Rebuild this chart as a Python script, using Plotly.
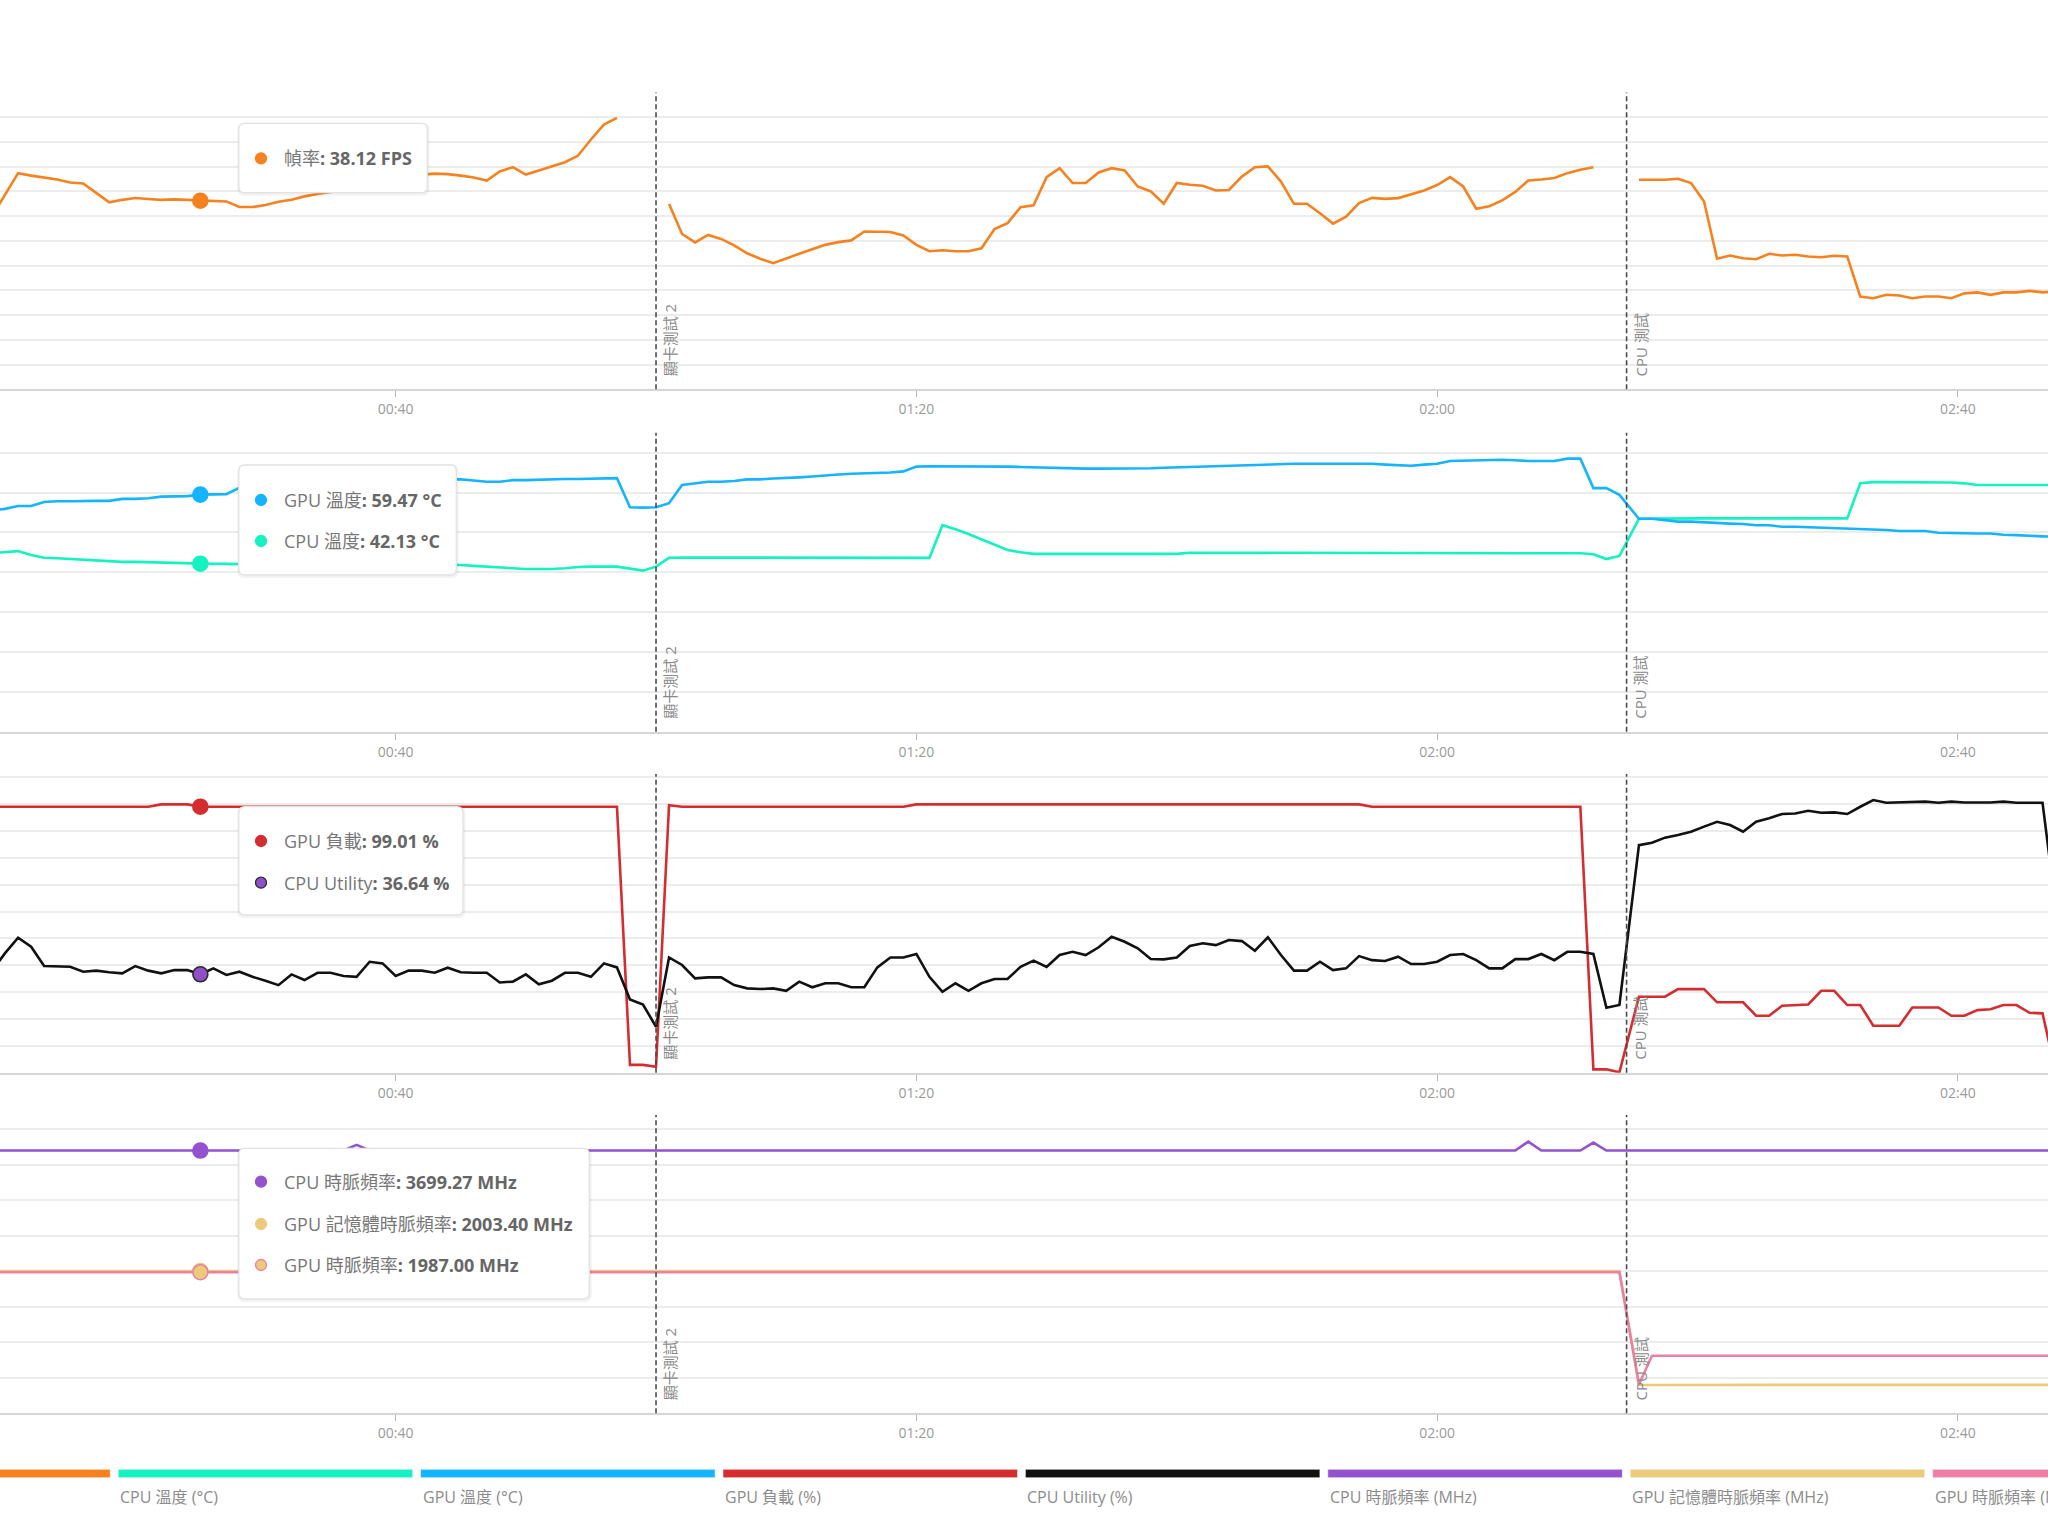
import plotly.graph_objects as go

W, H = 2048, 1536

# ---------------- data ----------------
# sample times in seconds (1 Hz log); the CPU test starts on a half-second grid
SECONDS = list(range(9, 135)) + [135.5 + k for k in range(33)]

FPS = [
    35.0, 39.4, 43.7, 43.2, 42.8, 42.4, 41.8, 41.6, 39.7, 37.8,
    38.3, 38.66, 38.46, 38.3, 38.4, 38.26, 38.12, 38.1, 37.98, 36.84,
    36.84, 37.25, 37.9, 38.3, 39.0, 39.5, 39.9, 40.1, 40.5, 41.1,
    41.7, 42.3, 42.9, 43.4, 43.6, 43.5, 43.2, 42.8, 42.2, 44.05,
    44.9, 43.4, 44.25, 45.06, 45.9, 47.2, 50.5, 53.5, 54.86, None,
    None, None, 37.45, 31.4, 29.7, 31.2, 30.4, 29.1, 27.5, 26.4,
    25.5, 26.5, 27.4, 28.3, 29.2, 29.75, 30.1, 31.9, 31.9, 31.8,
    31.1, 29.2, 27.9, 28.1, 27.9, 27.9, 28.5, 32.4, 33.6, 36.8,
    37.2, 42.9, 44.7, 41.7, 41.7, 43.85, 44.7, 44.25, 41.0, 40.0,
    37.5, 41.7, 41.35, 41.15, 40.2, 40.3, 43.0, 44.9, 45.06, 42.0,
    37.5, 37.5, 35.6, 33.5, 34.9, 37.65, 38.7, 38.5, 38.65, 39.5,
    40.2, 41.3, 42.9, 41.0, 36.5, 37.0, 38.2, 39.9, 42.2, 42.4,
    42.7, 43.7, 44.4, 44.9, None, None,
    42.37, 42.37, 42.37, 42.57, 41.7, 37.98, 26.4, 27.05, 26.5, 26.3,
    27.4, 27.05, 27.2, 26.85, 26.7, 27.0, 26.85, 18.75, 18.4, 19.1,
    18.95, 18.4, 18.75, 18.75, 18.4, 19.4, 19.6, 19.1, 19.6, 19.6,
    19.9, 19.6, 19.75,
]

CPU_TEMP = [
    44.8, 45.0, 45.3, 44.3, 43.65, 43.5, 43.3, 43.1, 42.9, 42.65,
    42.6, 42.6, 42.5, 42.5, 42.4, 42.3, 42.13, 42.1, 42.1, 42.0,
    42.0, 42.0, 42.0, 41.9, 41.9, 41.9, 41.9, 41.9, 41.8, 41.8,
    41.8, 41.8, 41.8, 41.8, 41.8, 41.8, 41.8, 41.6, 41.4, 41.2,
    41.0, 40.8, 40.8, 40.8, 41.0, 41.3, 41.4, 41.4, 41.4, 40.9,
    40.4, 41.4, 43.6, 43.7, 43.7, 43.6, 43.6, 43.6, 43.6, 43.6,
    43.6, 43.6, 43.6, 43.6, 43.6, 43.6, 43.6, 43.6, 43.6, 43.6,
    43.6, 43.6, 43.6, 51.8, 50.8, 49.6, 48.2, 46.8, 45.6, 45.0,
    44.6, 44.6, 44.6, 44.6, 44.6, 44.6, 44.6, 44.6, 44.6, 44.6,
    44.6, 44.6, 44.9, 44.9, 44.9, 44.9, 44.9, 44.9, 44.9, 44.9,
    44.9, 44.9, 44.9, 44.9, 44.9, 44.9, 44.9, 44.8, 44.8, 44.8,
    44.8, 44.8, 44.8, 44.8, 44.8, 44.8, 44.75, 44.75, 44.75, 44.75,
    44.75, 44.75, 44.75, 44.5, 43.3, 44.1,
    53.4, 53.45, 53.5, 53.5, 53.5, 53.5, 53.5, 53.5, 53.5, 53.5,
    53.5, 53.5, 53.5, 53.5, 53.5, 53.5, 53.5, 62.3, 62.6, 62.6,
    62.6, 62.6, 62.6, 62.6, 62.5, 62.3, 61.9, 61.9, 61.9, 61.9,
    61.9, 61.9, 61.9,
]

GPU_TEMP = [
    55.5, 55.9, 56.6, 56.6, 57.6, 57.8, 57.8, 57.9, 57.9, 57.9,
    58.4, 58.4, 58.55, 58.96, 59.1, 59.1, 59.47, 59.47, 59.6, 61.2,
    61.8, 62.2, 62.4, 62.6, 62.7, 62.8, 62.9, 63.0, 63.0, 63.1,
    63.1, 63.2, 63.2, 63.3, 63.3, 63.3, 63.3, 63.0, 62.7, 62.7,
    63.1, 63.1, 63.2, 63.4, 63.4, 63.4, 63.5, 63.6, 63.6, 56.3,
    56.2, 56.3, 57.3, 61.9, 62.3, 62.7, 62.7, 62.9, 63.3, 63.3,
    63.5, 63.6, 63.8, 64.0, 64.3, 64.5, 64.7, 64.8, 65.0, 65.0,
    65.3, 66.5, 66.6, 66.6, 66.6, 66.6, 66.6, 66.5, 66.5, 66.4,
    66.3, 66.2, 66.2, 66.0, 66.0, 66.0, 66.0, 66.0, 66.0, 66.1,
    66.2, 66.3, 66.4, 66.5, 66.6, 66.7, 66.8, 66.9, 67.0, 67.2,
    67.2, 67.2, 67.2, 67.2, 67.2, 67.2, 67.2, 67.0, 66.8, 66.7,
    67.0, 67.2, 67.9, 68.0, 68.1, 68.2, 68.2, 68.1, 67.9, 67.9,
    67.9, 68.5, 68.5, 61.1, 61.1, 59.4,
    53.4, 53.4, 53.1, 52.7, 52.7, 52.5, 52.3, 52.2, 52.1, 51.8,
    51.8, 51.4, 51.4, 51.3, 51.1, 51.0, 50.85, 50.85, 50.8, 50.6,
    50.35, 50.35, 50.35, 49.9, 49.8, 49.8, 49.7, 49.7, 49.4, 49.3,
    49.1, 49.0, 48.9,
]

GPU_LOAD = [
    99.0, 99.0, 99.0, 99.0, 99.0, 99.0, 99.0, 99.0, 99.0, 99.0,
    99.0, 99.0, 99.0, 99.9, 99.9, 99.9, 99.01, 99.0, 99.0, 99.0,
    99.0, 99.0, 99.0, 99.0, 99.0, 99.0, 99.0, 99.0, 99.0, 99.0,
    99.0, 99.0, 99.0, 99.0, 99.0, 99.0, 99.0, 99.0, 99.0, 99.0,
    99.0, 99.0, 99.0, 99.0, 99.0, 99.0, 99.0, 99.0, 99.0, 2.9,
    2.9, 2.2, 99.6, 99.0, 99.0, 99.0, 99.0, 99.0, 99.0, 99.0,
    99.0, 99.0, 99.0, 99.0, 99.0, 99.0, 99.0, 99.0, 99.0, 99.0,
    99.0, 99.9, 99.9, 99.9, 99.9, 99.9, 99.9, 99.9, 99.9, 99.9,
    99.9, 99.9, 99.9, 99.9, 99.9, 99.9, 99.9, 99.9, 99.9, 99.9,
    99.9, 99.9, 99.9, 99.9, 99.9, 99.9, 99.9, 99.9, 99.9, 99.9,
    99.9, 99.9, 99.9, 99.9, 99.9, 99.9, 99.0, 99.0, 99.0, 99.0,
    99.0, 99.0, 99.0, 99.0, 99.0, 99.0, 99.0, 99.0, 99.0, 99.0,
    99.0, 99.0, 99.0, 1.25, 1.25, 0.15,
    28.3, 28.3, 28.3, 31.1, 31.1, 31.1, 26.2, 26.2, 26.2, 21.2,
    21.2, 24.9, 25.2, 25.4, 30.5, 30.5, 25.2, 25.2, 17.5, 17.5,
    17.5, 24.3, 24.3, 24.3, 21.2, 21.2, 23.3, 23.6, 25.2, 25.2,
    22.3, 22.1, 0.5,
]

CPU_UTIL = [
    38.0, 44.5,
    50.25, 46.9, 39.7, 39.7, 39.45, 37.6, 38.0, 37.4, 37.0, 39.7,
    38.0, 37.0, 38.2, 38.2, 36.64, 38.85, 36.4, 37.6, 35.7, 34.25,
    32.6, 36.6, 34.5, 37.2, 37.2, 36.0, 35.7, 41.3, 40.7, 36.0,
    38.0, 38.0, 37.2, 39.1, 37.4, 37.2, 37.2, 33.6, 33.9, 36.6,
    32.9, 34.25, 37.2, 37.2, 35.7, 40.7, 39.2,
    27.3, 25.4, 17.1,
    42.9, 40.1, 35.1, 35.5, 35.5, 32.6, 31.4, 31.15, 31.4, 30.5,
    33.9, 31.8, 33.3, 33.3, 31.8, 31.8, 39.2, 42.9, 42.9, 44.2,
    35.7, 30.1, 33.3, 30.5, 33.3, 34.9, 34.9, 39.4, 41.7, 39.4,
    43.8, 45.0, 43.8, 46.7, 50.6, 48.75, 46.3, 42.3, 42.2, 42.9,
    47.15, 48.2, 47.5, 49.4, 49.0, 45.4, 50.4, 43.8, 38.0, 38.0,
    41.3, 38.2, 38.85, 43.4, 41.9, 41.6, 43.2, 40.45, 40.45, 41.3,
    43.8, 44.2, 41.9, 38.85, 38.85, 42.3, 42.3, 44.2, 41.9, 45.0,
    45.0, 44.2,
    24.2, 25.2,
    84.7, 85.6, 87.5, 88.5, 89.7, 91.6, 93.4, 92.2, 89.7, 93.4,
    94.7, 96.3, 96.5, 97.5, 96.8, 96.9, 96.3, 99.0, 101.5, 100.5,
    100.6, 100.9, 100.9, 100.5, 100.9, 100.6, 100.5, 100.6, 100.9, 100.5,
    100.5, 100.5, 62.0,
]

CPU_CLOCK = [
    3699.3, 3699.3, 3702.1, 3705.0, 3699.3, 3699.3, 3698.9, 3699.3, 3699.3, 3699.3,
    3699.3, 3699.3, 3699.3, 3699.3, 3699.3, 3699.3, 3699.27, 3699.3, 3699.3, 3699.3,
    3699.3, 3699.3, 3699.3, 3699.3, 3699.3, 3699.3, 3699.3, 3699.3, 3779.0, 3699.3,
    3699.3, 3699.3, 3699.3, 3699.3, 3699.3, 3699.3, 3699.3, 3699.3, 3699.3, 3699.3,
    3699.3, 3699.3, 3699.3, 3699.3, 3699.3, 3699.3, 3699.3, 3699.3, 3699.3, 3706.0,
    3699.3, 3699.3, 3699.3, 3699.3, 3699.3, 3699.3, 3699.3, 3699.3, 3699.3, 3699.3,
    3699.3, 3699.3, 3699.3, 3699.3, 3699.3, 3699.3, 3699.3, 3699.3, 3699.3, 3699.3,
    3699.3, 3699.3, 3699.3, 3699.3, 3699.3, 3699.3, 3699.3, 3699.3, 3699.3, 3699.3,
    3699.3, 3699.3, 3699.3, 3699.3, 3699.3, 3699.3, 3699.3, 3699.3, 3699.3, 3699.3,
    3699.3, 3699.3, 3699.3, 3699.3, 3699.3, 3699.3, 3699.3, 3699.3, 3699.3, 3699.3,
    3699.3, 3699.3, 3699.3, 3699.3, 3699.3, 3699.3, 3699.3, 3699.3, 3699.3, 3699.3,
    3699.3, 3699.3, 3699.3, 3699.3, 3699.3, 3699.3, 3699.3, 3699.3, 3825.0, 3699.3,
    3699.3, 3699.3, 3699.3, 3811.0, 3699.3, 3699.3,
    3699.3, 3699.3, 3701.5, 3699.3, 3699.3, 3699.3, 3699.3, 3699.3, 3699.3, 3699.3,
    3699.3, 3703.0, 3699.3, 3699.3, 3699.3, 3699.3, 3699.3, 3703.0, 3699.3, 3699.3,
    3699.3, 3703.0, 3699.3, 3699.3, 3699.3, 3699.3, 3699.3, 3699.3, 3699.3, 3699.3,
    3703.0, 3699.3, 3699.3,
]

GPU_MEM_CLOCK = [
    2003.4, 2003.4, 2003.4, 2003.4, 2003.4, 2003.4, 2003.4, 2003.4, 2003.4, 2003.4,
    2003.4, 2003.4, 2003.4, 2003.4, 2003.4, 2003.4, 2003.4, 2003.4, 2003.4, 2003.4,
    2003.4, 2003.4, 2003.4, 2003.4, 2003.4, 2003.4, 2003.4, 2003.4, 2003.4, 2003.4,
    2003.4, 2003.4, 2003.4, 2003.4, 2003.4, 2003.4, 2003.4, 2003.4, 2003.4, 2003.4,
    2003.4, 2003.4, 2003.4, 2003.4, 2003.4, 2003.4, 2003.4, 2003.4, 2003.4, 2003.4,
    2003.4, 2003.4, 2003.4, 2003.4, 2003.4, 2003.4, 2003.4, 2003.4, 2003.4, 2003.4,
    2003.4, 2003.4, 2003.4, 2003.4, 2003.4, 2003.4, 2003.4, 2003.4, 2003.4, 2003.4,
    2003.4, 2003.4, 2003.4, 2003.4, 2003.4, 2003.4, 2003.4, 2003.4, 2003.4, 2003.4,
    2003.4, 2003.4, 2003.4, 2003.4, 2003.4, 2003.4, 2003.4, 2003.4, 2003.4, 2003.4,
    2003.4, 2003.4, 2003.4, 2003.4, 2003.4, 2003.4, 2003.4, 2003.4, 2003.4, 2003.4,
    2003.4, 2003.4, 2003.4, 2003.4, 2003.4, 2003.4, 2003.4, 2003.4, 2003.4, 2003.4,
    2003.4, 2003.4, 2003.4, 2003.4, 2003.4, 2003.4, 2003.4, 2003.4, 2003.4, 2003.4,
    2003.4, 2003.4, 2003.4, 2003.4, 2003.4, 2003.4,
    399.0, 400.0, 400.0, 400.0, 400.0, 400.0, 400.0, 400.0, 400.0, 400.0,
    400.0, 400.0, 400.0, 400.0, 400.0, 400.0, 400.0, 400.0, 400.0, 400.0,
    400.0, 400.0, 400.0, 400.0, 400.0, 400.0, 400.0, 400.0, 400.0, 400.0,
    400.0, 400.0, 400.0,
]

GPU_CLOCK = [
    1987.0, 1987.0, 1987.0, 1987.0, 1987.0, 1987.0, 1987.0, 1987.0, 1987.0, 1987.0,
    1987.0, 1987.0, 1987.0, 1987.0, 1987.0, 1987.0, 1987.0, 1987.0, 1987.0, 1987.0,
    1987.0, 1987.0, 1987.0, 1987.0, 1987.0, 1987.0, 1987.0, 1987.0, 1987.0, 1987.0,
    1987.0, 1987.0, 1987.0, 1987.0, 1987.0, 1987.0, 1987.0, 1987.0, 1987.0, 1987.0,
    1987.0, 1987.0, 1987.0, 1987.0, 1987.0, 1987.0, 1987.0, 1987.0, 1987.0, 1987.0,
    1987.0, 1987.0, 1987.0, 1987.0, 1987.0, 1987.0, 1987.0, 1987.0, 1987.0, 1987.0,
    1987.0, 1987.0, 1987.0, 1987.0, 1987.0, 1987.0, 1987.0, 1987.0, 1987.0, 1987.0,
    1987.0, 1987.0, 1987.0, 1987.0, 1987.0, 1987.0, 1987.0, 1987.0, 1987.0, 1987.0,
    1987.0, 1987.0, 1987.0, 1987.0, 1987.0, 1987.0, 1987.0, 1987.0, 1987.0, 1987.0,
    1987.0, 1987.0, 1987.0, 1987.0, 1987.0, 1987.0, 1987.0, 1987.0, 1987.0, 1987.0,
    1987.0, 1987.0, 1987.0, 1987.0, 1987.0, 1987.0, 1987.0, 1987.0, 1987.0, 1987.0,
    1987.0, 1987.0, 1987.0, 1987.0, 1987.0, 1987.0, 1987.0, 1987.0, 1987.0, 1987.0,
    1987.0, 1987.0, 1987.0, 1987.0, 1987.0, 1987.0,
    405.0, 810.0, 810.0, 810.0, 810.0, 810.0, 810.0, 810.0, 810.0, 810.0,
    810.0, 810.0, 810.0, 810.0, 810.0, 810.0, 810.0, 810.0, 810.0, 810.0,
    810.0, 810.0, 810.0, 810.0, 810.0, 810.0, 810.0, 810.0, 810.0, 810.0,
    810.0, 810.0, 810.0,
]

TICK_SECONDS = [40, 80, 120, 160]
TICK_LABELS = ["00:40", "01:20", "02:00", "02:40"]
X_VIEW = [9.61, 166.92]

TEST_MARKS = [(60.0, "顯卡測試 2"), (134.55, "CPU 測試")]
HOVER_SECOND = 25

# series: (name, legend name, unit, values, panel, line colour, item colour, item border)
SERIES = [
    ("幀率", "幀率 (FPS)", "FPS", FPS, 1, "#f5821f", "#f5821f", "#f5821f"),
    ("CPU 溫度", "CPU 溫度 (°C)", "°C", CPU_TEMP, 2, "#14f2c1", "#14f2c1", "#14f2c1"),
    ("GPU 溫度", "GPU 溫度 (°C)", "°C", GPU_TEMP, 2, "#14b4ff", "#14b4ff", "#14b4ff"),
    ("GPU 負載", "GPU 負載 (%)", "%", GPU_LOAD, 3, "#d42d30", "#d42d30", "#d42d30"),
    ("CPU Utility", "CPU Utility (%)", "%", CPU_UTIL, 3, "#111111", "#8e4fc9", "#2a2a2a"),
    ("CPU 時脈頻率", "CPU 時脈頻率 (MHz)", "MHz", CPU_CLOCK, 4, "#9452cf", "#9452cf", "#9452cf"),
    ("GPU 記憶體時脈頻率", "GPU 記憶體時脈頻率 (MHz)", "MHz", GPU_MEM_CLOCK, 4, "#ebcb7b", "#ebcb7b", "#ebcb7b"),
    ("GPU 時脈頻率", "GPU 時脈頻率 (MHz)", "MHz", GPU_CLOCK, 4, "#ec7fa4", "#ebcb7b", "#ec7fa4"),
]
# order of rows in each tooltip
TOOLTIP_ORDER = {1: ["幀率"], 2: ["GPU 溫度", "CPU 溫度"], 3: ["GPU 負載", "CPU Utility"],
                 4: ["CPU 時脈頻率", "GPU 記憶體時脈頻率", "GPU 時脈頻率"]}

# ---------------- layout geometry (pixels) ----------------
PANEL_TOP = [92.5, 432.7, 774.0, 1115.0]
PANEL_BOTTOM = [389.3, 731.7, 1072.7, 1413.3]
Y_RANGES = [(0, 60), (0, 75), (0, 111.2), (0, 4200)]
Y_DTICK = [5, 10, 10, 500]
TOOLTIP_BOX = [(238.8, 123.3, 427.2, 192.7), (238.8, 465.0, 456.3, 575.0),
               (238.8, 806.7, 463.0, 915.0), (238.8, 1148.3, 589.3, 1299.0)]
TOOLTIP_ROWS = [[158.3], [500.0, 541.0], [841.0, 882.7], [1181.7, 1224.0, 1265.0]]

FONT = "Open Sans, Noto Sans CJK TC, sans-serif"


def px(x):
    return x / W


def py(y):
    return 1 - y / H


def rounded_path(x0, y0, x1, y1, r):
    pts = [
        ("M", [(x0 + r, y0)]), ("L", [(x1 - r, y0)]), ("Q", [(x1, y0), (x1, y0 + r)]),
        ("L", [(x1, y1 - r)]), ("Q", [(x1, y1), (x1 - r, y1)]), ("L", [(x0 + r, y1)]),
        ("Q", [(x0, y1), (x0, y1 - r)]), ("L", [(x0, y0 + r)]), ("Q", [(x0, y0), (x0 + r, y0)]),
    ]
    s = ""
    for cmd, ps in pts:
        s += cmd + " " + " ".join(f"{px(a):.6f},{py(b):.6f}" for a, b in ps) + " "
    return s + "Z"


fig = go.Figure()


def axname(n, kind):
    return kind if n == 1 else f"{kind}{n}"


for name, lname, unit, vals, panel, lc, ic, ib in SERIES:
    fig.add_trace(go.Scatter(
        x=SECONDS, y=vals, mode="lines", name=lname,
        line=dict(color=lc, width=2.6), connectgaps=False,
        xaxis=axname(panel, "x"), yaxis=axname(panel, "y"), showlegend=False,
    ))

hi = SECONDS.index(HOVER_SECOND)
for name, lname, unit, vals, panel, lc, ic, ib in SERIES:
    fig.add_trace(go.Scatter(
        x=[HOVER_SECOND], y=[vals[hi]], mode="markers",
        marker=dict(size=15, color=ic, line=dict(color=ib, width=1.6)),
        xaxis=axname(panel, "x"), yaxis=axname(panel, "y"), showlegend=False, cliponaxis=False,
    ))

layout = dict(
    width=W, height=H, margin=dict(l=0, r=0, t=0, b=0),
    paper_bgcolor="white", plot_bgcolor="white", template="none",
    hovermode=False, showlegend=False, font=dict(family=FONT, color="#999"),
)
for i in range(4):
    n = i + 1
    dom = [py(PANEL_BOTTOM[i]), py(PANEL_TOP[i])]
    layout[("xaxis" if n == 1 else f"xaxis{n}")] = dict(
        domain=[0, 1], anchor=axname(n, "y"), range=X_VIEW, tickmode="array",
        tickvals=TICK_SECONDS, ticktext=TICK_LABELS, showgrid=False, zeroline=False,
        showline=True, linecolor="#d6d6d6", linewidth=2, ticks="outside", ticklen=6,
        tickwidth=1.4, tickcolor="#b5b5b5", tickfont=dict(size=14, color="#9a9a9a", family=FONT),
        automargin=False, fixedrange=True,
    )
    layout[("yaxis" if n == 1 else f"yaxis{n}")] = dict(
        domain=dom, anchor=axname(n, "x"), range=list(Y_RANGES[i]), tick0=0, dtick=Y_DTICK[i],
        showgrid=True, gridcolor="#ececec", gridwidth=1.5, zeroline=False, showline=False,
        showticklabels=False, ticks="", automargin=False, fixedrange=True,
    )
fig.update_layout(**layout)

shapes = []
annotations = []
# test markers
for i in range(4):
    n = i + 1
    for t, label in TEST_MARKS:
        shapes.append(dict(type="line", xref=axname(n, "x"), yref=f"{axname(n, 'y')} domain",
                           x0=t, x1=t, y0=0, y1=1,
                           line=dict(color="#4a4a4a", width=1.6, dash="5px,3px"), layer="above"))
        annotations.append(dict(x=t, y=0, xref=axname(n, "x"), yref=f"{axname(n, 'y')} domain",
                                text=label, showarrow=False, textangle=-90, xanchor="center",
                                yanchor="bottom", xshift=14, yshift=11,
                                font=dict(size=15, color="#8a8a8a", family=FONT)))

# tooltips
by_name = {s[0]: s for s in SERIES}
for i in range(4):
    x0, y0, x1, y1 = TOOLTIP_BOX[i]
    shapes.append(dict(type="path", xref="paper", yref="paper",
                       path=rounded_path(x0 - 1.5, y0 - 0.5, x1 + 2.5, y1 + 3, 7),
                       fillcolor="rgba(0,0,0,0.05)", line=dict(width=0), layer="above"))
    shapes.append(dict(type="path", xref="paper", yref="paper",
                       path=rounded_path(x0, y0, x1, y1, 6),
                       fillcolor="white", line=dict(color="#e2e2e2", width=1.3), layer="above"))
    for row_y, nm in zip(TOOLTIP_ROWS[i], TOOLTIP_ORDER[i + 1]):
        name, lname, unit, vals, panel, lc, ic, ib = by_name[nm]
        r = 5.5
        shapes.append(dict(type="circle", xref="paper", yref="paper",
                           x0=px(261 - r), x1=px(261 + r), y0=py(row_y + r), y1=py(row_y - r),
                           fillcolor=ic, line=dict(color=ib, width=1.3), layer="above"))
        annotations.append(dict(
            x=px(282), y=py(row_y), xref="paper", yref="paper", xanchor="left", yanchor="middle",
            showarrow=False,
            text=f"<span style='color:#777'>{name}</span><b>: {vals[hi]:.2f} {unit}</b>",
            font=dict(size=18, color="#666", family=FONT)))

# custom legend at the bottom (the first item's label lies left of the visible area)
LEG_X0, LEG_PITCH, LEG_W = -184.2, 302.4, 294.5
for k, s in enumerate(SERIES):
    lx = LEG_X0 + k * LEG_PITCH
    shapes.append(dict(type="rect", xref="paper", yref="paper",
                       x0=px(lx), x1=px(lx + LEG_W), y0=py(1477.7), y1=py(1469.3),
                       fillcolor=s[5], line=dict(color="rgba(255,255,255,0.55)", width=1)))
    if lx >= 0:
        annotations.append(dict(x=px(lx), y=py(1497), xref="paper", yref="paper",
                                xanchor="left", yanchor="middle", showarrow=False, text=s[1],
                                font=dict(size=16, color="#8c8c8c", family=FONT)))

fig.update_layout(shapes=shapes, annotations=annotations)
fig.write_html("out.html")
